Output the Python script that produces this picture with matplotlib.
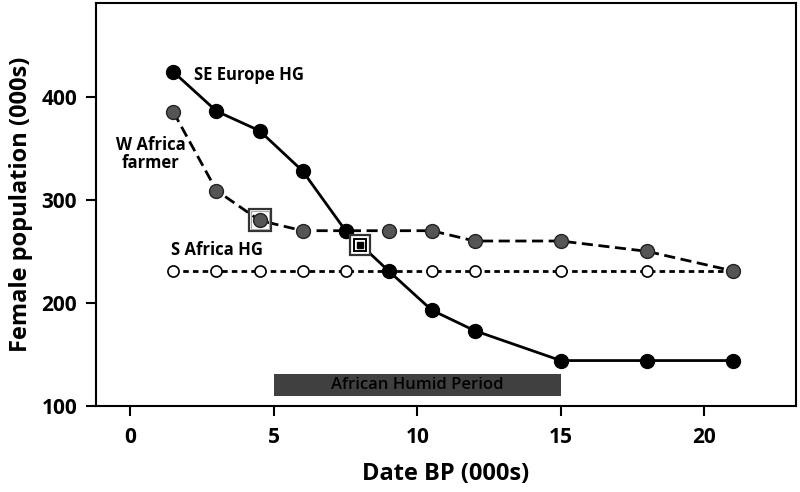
import matplotlib
matplotlib.use('Agg')
import matplotlib.pyplot as plt

plt.rcParams['font.family'] = ['Open Sans', 'DejaVu Sans']
plt.rcParams['font.weight'] = 'bold'

# dates in thousands of years BP
dates = [1.5, 3, 4.5, 6, 7.5, 9, 10.5, 12, 15, 18, 21]
se_europe_hg = [424, 386, 367, 328, 270, 231, 193, 173, 144, 144, 144]
w_africa_farmer = [385, 309, 280, 270, 270, 270, 270, 260, 260, 250, 231]
s_africa_hg = [231] * len(dates)

# highlighted points
box_single = (4.5, 280)
box_nested = (8, 256)

humid_start, humid_end = 5, 15
humid_low, humid_high = 110, 131

fig = plt.figure(figsize=(8, 4.92), dpi=100)
ax = fig.add_axes([0.12, 0.175, 0.875, 0.819])

ax.plot(dates, s_africa_hg, linestyle=(0, (2.0, 1.5)), color='black', lw=2,
        marker='o', markersize=8, markerfacecolor='white', markeredgecolor='black',
        markeredgewidth=1.2, zorder=2)
ax.plot(dates, w_africa_farmer, linestyle=(0, (4, 2)), color='black', lw=2,
        marker='o', markersize=10, markerfacecolor='#555555', markeredgecolor='#222222',
        markeredgewidth=1, zorder=3)
ax.plot(dates, se_europe_hg, linestyle='-', color='black', lw=2,
        marker='o', markersize=10, markerfacecolor='black', markeredgecolor='black', zorder=4)

# boxed points
ax.plot(*box_single, marker='s', markersize=16, fillstyle='none',
        markeredgecolor='#333333', markeredgewidth=1.6, zorder=5)
ax.plot(*box_single, marker='s', markersize=13, fillstyle='none',
        markeredgecolor='#aaaaaa', markeredgewidth=0.8, zorder=5)
ax.plot(*box_nested, marker='s', markersize=14, markerfacecolor='white',
        markeredgecolor='#333333', markeredgewidth=1.6, zorder=5)
ax.plot(*box_nested, marker='s', markersize=9, markerfacecolor='white',
        markeredgecolor='black', markeredgewidth=1.4, zorder=6)
ax.plot(*box_nested, marker='s', markersize=4, markerfacecolor='black',
        markeredgecolor='black', zorder=7)

# African Humid Period bar
ax.fill_between([humid_start, humid_end], humid_low, humid_high,
                color='#404040', lw=0, zorder=1)
ax.text((humid_start + humid_end) / 2, (humid_low + humid_high) / 2,
        'African Humid Period', ha='center', va='center', fontsize=12,
        color='black', fontweight='semibold', zorder=2)

# series labels
ax.text(2.2, 421, 'SE Europe HG', ha='left', va='center', fontsize=12, fontweight='bold')
ax.text(0.7, 344, 'W Africa\nfarmer', ha='center', va='center', fontsize=12,
        fontweight='bold', linespacing=1.0)
ax.text(1.4, 251, 'S Africa HG', ha='left', va='center', fontsize=12, fontweight='bold')

ax.set_xlim(-1.2, 23.2)
ax.set_ylim(100, 491)
ax.set_xticks([0, 5, 10, 15, 20])
ax.set_yticks([100, 200, 300, 400])
ax.tick_params(axis='both', direction='out', length=7.5, width=1.5, labelsize=15, pad=6)
ax.tick_params(axis='x', pad=8)
for lab in ax.get_xticklabels() + ax.get_yticklabels():
    lab.set_fontweight('bold')
for sp in ax.spines.values():
    sp.set_linewidth(1.5)

ax.set_xlabel('Date BP (000s)', fontsize=17, fontweight='bold', labelpad=10)
ax.set_ylabel('Female population (000s)', fontsize=17, fontweight='bold', labelpad=6)

fig.savefig('out.png', dpi=100)
